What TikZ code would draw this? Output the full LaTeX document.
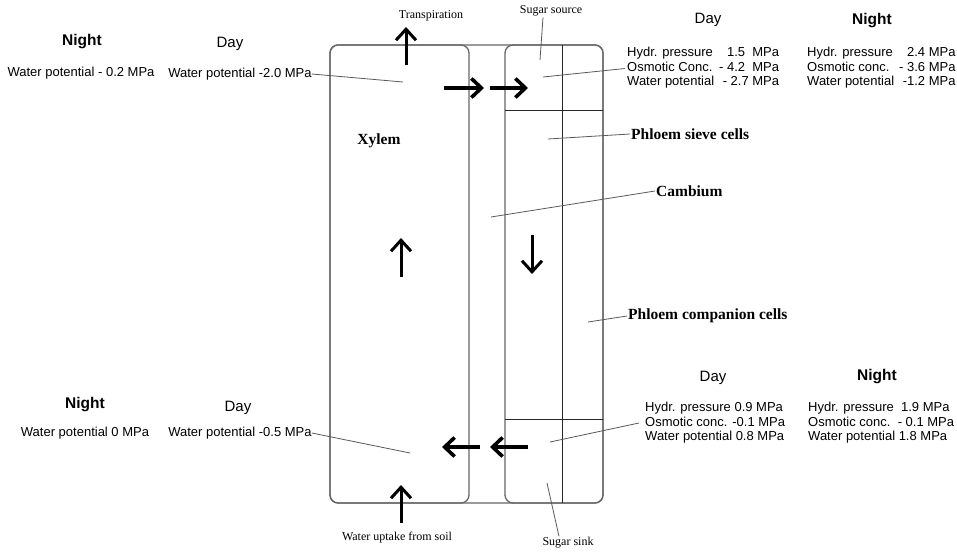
\documentclass[tikz,border=0pt]{standalone}
\usepackage{fontspec}
\setmainfont{Liberation Serif}
\setsansfont{Liberation Sans}
\usetikzlibrary{arrows.meta,calc}

\begin{document}
\begin{tikzpicture}[
      x=1pt, y=-1pt,
      wall/.style={draw=black!60, line width=1.3pt, rounded corners=8pt},
      cellline/.style={draw=black!85, line width=0.9pt},
      lead/.style={draw=black!65, line width=0.8pt},
      flow/.style={line width=3.6pt, -{Straight Barb[length=10pt,width=19pt]}},
      rise/.style={line width=3pt, -{Straight Barb[length=11pt,width=20pt]}},
      val/.style={font=\sffamily\fontsize{13}{14.5}\selectfont, align=left, inner sep=0pt},
      daytag/.style={font=\sffamily\fontsize{15}{17}\selectfont},
      nighttag/.style={font=\sffamily\bfseries\fontsize{15.5}{17}\selectfont},
      lbl/.style={font=\fontsize{12}{14}\selectfont, inner sep=1pt},
      tissue/.style={font=\bfseries\fontsize{15.5}{17}\selectfont, inner sep=1pt}
    ]
    \useasboundingbox (0,0) rectangle (957,551);

    % stem section: xylem | cambium | phloem
    \draw[wall] (330,45) rectangle (603,503);
    \draw[wall] (330,45) rectangle (469,503);
    \draw[wall] (505,45) rectangle (603,503);
    \draw[cellline] (562,45) -- (562,503);
    \draw[cellline] (505,110) -- (603,110);
    \draw[cellline] (505,419) -- (603,419);

    % flows
    \draw[rise] (406,65) -- (406,27);
    \draw[rise] (401,523) -- (401,485);
    \draw[rise] (401,277) -- (401,238);
    \draw[rise] (532,235) -- (532,274);
    \draw[flow] (444,88) -- (484,88);
    \draw[flow] (490,88) -- (528,88);
    \draw[flow] (528,447) -- (490,447);
    \draw[flow] (480,447) -- (442,447);

    \node[lbl]                 (transp) at (431,16)  {Transpiration};
    \node[lbl]                 (source) at (551,11)  {Sugar source};
    \node[lbl]                 (uptake) at (397,538) {Water uptake from soil};
    \node[lbl]                 (sink)   at (568,543) {Sugar sink};
    \node[tissue]              (xyl)    at (379,141) {Xylem};
    \node[tissue, anchor=west] (sieve)  at (630,134) {Phloem sieve cells};
    \node[tissue, anchor=west] (camb)   at (655,191) {Cambium};
    \node[tissue, anchor=west] (comp)   at (627,316) {Phloem companion cells};

    % xylem values
    \node[nighttag] (n1)   at (82,42)  {Night};
    \node[val]      (n1wp) at (81,73)  {Water potential - 0.2 MPa};
    \node[daytag]   (d1)   at (230,44) {Day};
    \node[val]      (d1wp) at (240,74) {Water potential -2.0 MPa};
    \node[nighttag] (n2)   at (85,405) {Night};
    \node[val]      (n2wp) at (85,433) {Water potential 0 MPa};
    \node[daytag]   (d2)   at (238,408) {Day};
    \node[val]      (d2wp) at (240,433) {Water potential -0.5 MPa};

    % phloem values
    \node[daytag] (d3) at (708,20) {Day};
    \node[val, anchor=west] (d3v) at (627,68.5) {\begin{tabular}{@{}l@{\hspace{5pt}}r@{}}
      Hydr. pressure & 1.5\ \ MPa\\ Osmotic Conc. & - 4.2\ \ MPa\\ Water potential & - 2.7 MPa\end{tabular}};
    \node[nighttag] (n3) at (872,21) {Night};
    \node[val, anchor=west] (n3v) at (807,68.5) {\begin{tabular}{@{}l@{\hspace{5pt}}r@{}}
      Hydr. pressure & 2.4 MPa\\ Osmotic conc. & - 3.6 MPa\\ Water potential & -1.2 MPa\end{tabular}};
    \node[daytag] (d4) at (713,378) {Day};
    \node[val, anchor=west] (d4v) at (645,423) {Hydr. pressure 0.9 MPa\\Osmotic conc. -0.1 MPa\\Water potential 0.8 MPa};
    \node[nighttag] (n4) at (877,377) {Night};
    \node[val, anchor=west] (n4v) at (808,423) {Hydr. pressure\ \ 1.9 MPa\\Osmotic conc.\ \ - 0.1 MPa\\Water potential 1.8 MPa};

    % leader lines
    \coordinate (xtop)    at (403,82);
    \coordinate (xbot)    at (410,453);
    \coordinate (ptop)    at (543,77);
    \coordinate (pbot)    at (550,442);
    \coordinate (srcpt)   at (540,60);
    \coordinate (sinkpt)  at (547,483);
    \coordinate (sievept) at (548,139);
    \coordinate (cambpt)  at (491,217);
    \coordinate (comppt)  at (588,322);

    \draw[lead] (d1wp.east) -- (xtop);
    \draw[lead] (d2wp.east) -- (xbot);
    \draw[lead] (ptop) -- ([xshift=-2pt]d3v.west);
    \draw[lead] (pbot) -- ([xshift=-6pt]d4v.west);
    \draw[lead] ($(source.south)+(-8,0)$) -- (srcpt);
    \draw[lead] (sinkpt) -- ($(sink.north)+(-9,0)$);
    \draw[lead] (sievept) -- (sieve.west);
    \draw[lead] (cambpt) -- (camb.west);
    \draw[lead] (comppt) -- (comp.west);
  \end{tikzpicture}
\end{document}
